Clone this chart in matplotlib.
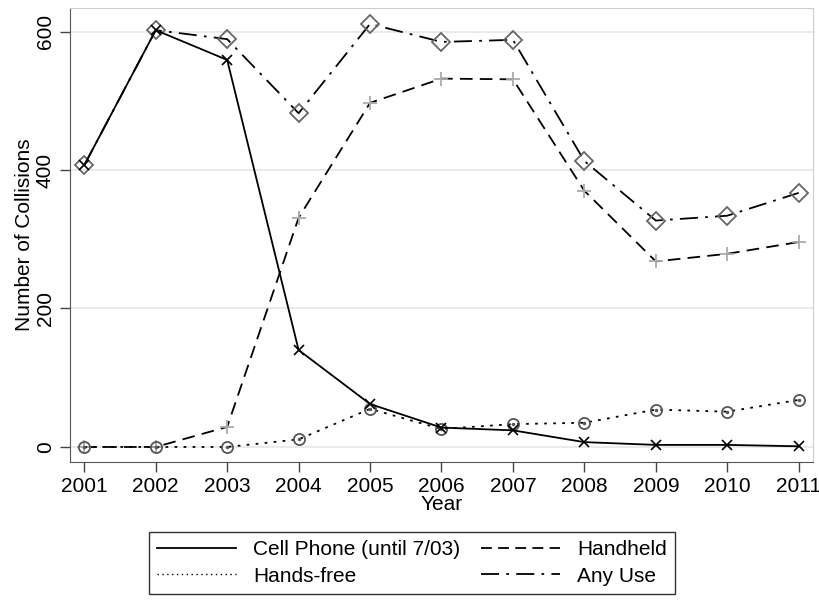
import matplotlib
matplotlib.use("Agg")
import matplotlib.pyplot as plt
from matplotlib.lines import Line2D

plt.rcParams['font.family'] = ['Liberation Sans', 'DejaVu Sans']

years = [2001, 2002, 2003, 2004, 2005, 2006, 2007, 2008, 2009, 2010, 2011]
cell_phone = [407, 602, 559, 140, 62, 28, 24, 7, 3, 3, 1]
handheld = [0, 0, 29, 331, 497, 532, 531, 370, 268, 279, 296]
hands_free = [0, 0, 0, 11, 55, 26, 33, 35, 54, 51, 68]
any_use = [407, 602, 589, 482, 611, 585, 588, 413, 327, 334, 367]
yticks = [0, 200, 400, 600]

fig = plt.figure(figsize=(8.2, 6.09), dpi=100)
ax = fig.add_axes([70/820, 1-462/609, (813-70)/820, (462-8)/609])

ax.plot(years, any_use, color='black', lw=1.3, dashes=(10, 4, 1.5, 4),
        marker='D', ms=9, mfc='none', mec='#666666', mew=1.3, zorder=3)
ax.plot(years, handheld, color='black', lw=1.3, dashes=(7, 4),
        marker='+', ms=10, mec='#aaaaaa', mew=1.3, zorder=3)
ax.plot(years, hands_free, color='black', lw=1.3, dashes=(1.5, 3.5),
        marker='o', ms=8, mfc='none', mec='#555555', mew=1.3, zorder=3)
ax.plot(years, hands_free, ls='none', marker='.', ms=3, color='#555555', zorder=3)
ax.plot(years, cell_phone, color='black', lw=1.3,
        marker='x', ms=7, mec='black', mew=1.2, zorder=4)

ax.set_xlim(2000.8, 2011.2)
ax.set_ylim(-21.7, 634)
ax.set_xticks(years)
ax.set_yticks(yticks)
ax.set_yticklabels([str(v) for v in yticks], rotation=90, va='center')
ax.grid(axis='y', color='#e6e6e6', lw=1.2, zorder=0)
ax.set_axisbelow(True)
ax.tick_params(labelsize=15, length=7, color='#444444', width=1, pad=4)
for s in ['top', 'right']:
    ax.spines[s].set_color('#cccccc')
for s in ['left', 'bottom']:
    ax.spines[s].set_color('#555555')
ax.set_xlabel('Year', fontsize=15, labelpad=-1)
ax.set_ylabel('Number of Collisions', fontsize=15, labelpad=1)

handles = [
    Line2D([], [], color='black', lw=1.3),
    Line2D([], [], color='black', lw=1.0, dashes=(1, 2.5)),
    Line2D([], [], color='black', lw=1.3, dashes=(6, 3.5)),
    Line2D([], [], color='black', lw=1.3, dashes=(10, 4, 1.5, 4)),
]
labels = ['Cell Phone (until 7/03)', 'Hands-free', 'Handheld', 'Any Use']
leg = fig.legend(handles, labels, loc='center', bbox_to_anchor=(412/820, 1-563/609),
                 ncol=2, fontsize=15, handlelength=3.8, columnspacing=1.0,
                 frameon=True, fancybox=False, edgecolor='black',
                 borderpad=0.4, labelspacing=0.35, handletextpad=0.8)
leg.get_frame().set_linewidth(1.0)

fig.savefig('out.png', dpi=100)
